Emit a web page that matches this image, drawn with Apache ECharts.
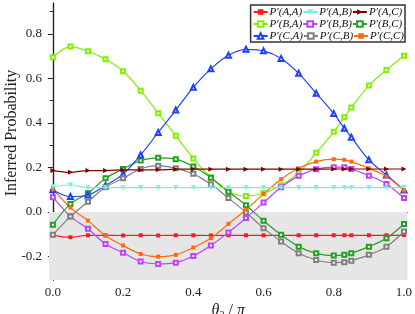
<!DOCTYPE html>
<html><head><meta charset="utf-8">
<script src="https://cdn.jsdelivr.net/npm/echarts@6/dist/echarts.min.js"></script>
<style>html,body{margin:0;padding:0;background:#fff}#c{width:415px;height:314px}</style>
</head><body><div id="c"></div>
<script>
var theta = [0,0.05,0.1,0.15,0.2,0.25,0.3,0.35,0.4,0.45,0.5,0.55,0.6,0.65,0.7,0.75,0.8,0.83,0.85,0.9,0.95,1.0];
var pAA = [-0.104,-0.114,-0.105,-0.105,-0.106,-0.105,-0.106,-0.105,-0.105,-0.106,-0.105,-0.105,-0.105,-0.105,-0.105,-0.105,-0.105,-0.105,-0.105,-0.105,-0.105,-0.104];
var pAB = [0.114,0.121,0.109,0.109,0.109,0.109,0.109,0.109,0.109,0.109,0.109,0.109,0.109,0.109,0.109,0.109,0.109,0.109,0.109,0.109,0.109,0.111];
var pAC = [0.186,0.178,0.186,0.186,0.189,0.189,0.189,0.192,0.192,0.192,0.192,0.192,0.192,0.192,0.192,0.192,0.193,0.193,0.193,0.193,0.193,0.193];
var pBA = [0.695,0.743,0.722,0.686,0.632,0.545,0.444,0.342,0.240,0.155,0.091,0.072,0.084,0.120,0.176,0.266,0.360,0.425,0.469,0.568,0.638,0.702];
var pBB = [0.066,-0.020,-0.076,-0.144,-0.183,-0.223,-0.234,-0.228,-0.198,-0.151,-0.092,-0.027,0.042,0.111,0.162,0.192,0.201,0.201,0.193,0.163,0.126,0.062];
var pBC = [-0.058,0.036,0.084,0.151,0.193,0.231,0.243,0.237,0.204,0.154,0.091,0.030,-0.040,-0.103,-0.156,-0.186,-0.196,-0.193,-0.186,-0.156,-0.118,-0.054];
var pCA = [0.100,0.069,0.076,0.119,0.170,0.256,0.357,0.458,0.560,0.643,0.704,0.731,0.724,0.690,0.623,0.533,0.442,0.376,0.336,0.234,0.166,0.099];
var pCB = [-0.103,-0.021,0.046,0.111,0.151,0.193,0.208,0.196,0.171,0.124,0.062,-0.002,-0.073,-0.133,-0.186,-0.216,-0.228,-0.226,-0.219,-0.193,-0.156,-0.088];
var pCC = [0.105,0.019,-0.039,-0.107,-0.151,-0.189,-0.201,-0.193,-0.160,-0.118,-0.054,0.010,0.081,0.147,0.196,0.226,0.237,0.234,0.226,0.196,0.159,0.096];
var names = ["P′(A,A)","P′(A,B)","P′(A,C)","P′(B,A)","P′(B,B)","P′(B,C)","P′(C,A)","P′(C,B)","P′(C,C)"];
var xMajor = [0,0.2,0.4,0.6,0.8,1.0];
var xMinor = [0.1,0.3,0.5,0.7,0.9];
var yMajor = [-0.2,0,0.2,0.4,0.6,0.8];
var yMinor = [-0.3,-0.1,0.1,0.3,0.5,0.7,0.9];

function pairs(v){ return theta.map(function(t,i){ return [t, v[i]]; }); }
var specs = [
  {d:pAA, c:'#ff1a1a', s:'rect', r:0, z:5},
  {d:pAB, c:'#70f5dc', s:'triangle', r:180, z:6},
  {d:pAC, c:'#800000', s:'triangle', r:-90, z:6},
  {d:pBA, c:'#80f000', s:'emptyRect', r:0, z:5},
  {d:pBB, c:'#c040ff', s:'emptyRect', r:0, z:5},
  {d:pBC, c:'#22a022', s:'emptyRect', r:0, z:5},
  {d:pCA, c:'#2040ff', s:'emptyTriangle', r:0, z:5},
  {d:pCB, c:'#808080', s:'emptyRect', r:0, z:5},
  {d:pCC, c:'#ff6a10', s:'rect', r:0, z:5}
];
var serif = 'Liberation Serif';
var series = specs.map(function(sp, i){
  return {
    name: names[i], type:'line', data: pairs(sp.d), smooth: 0.35,
    symbol: sp.s, symbolSize: sp.s.indexOf('riangle')>=0 ? 5 : 4, symbolRotate: sp.r,
    showAllSymbol: true,
    lineStyle:{color: sp.c, width: 1.2}, itemStyle:{color: sp.c, borderWidth: 1},
    z: sp.z, animation:false
  };
});
series.unshift({
  name:'bg', type:'line', data:[], z:1, silent:true,
  markArea:{silent:true, itemStyle:{color:'#e6e6e6'}, data:[[{yAxis:-0.306},{yAxis:0}]]}
});
var chart = echarts.init(document.getElementById('c'), null, {renderer:'canvas'});
var lbl = {fontFamily: serif, fontSize: 13, color:'#222'};
chart.setOption({
  animation:false,
  grid:{left:49, right:7.5, top:3, bottom:34, outerBoundsMode:'none', containLabel:false},
  legend:{
    data: names, right: 10, top: 5, width: 180, itemGap: 0, itemWidth: 14, itemHeight: 7,
    padding:[1,1,0,2], borderColor:'#333', borderWidth:1.5, backgroundColor:'#fff',
    textStyle:{fontFamily: serif, fontStyle:'italic', fontSize: 11, color:'#111', lineHeight: 12, padding:[0,0,0,-3]}
  },
  xAxis:[
    {type:'value', min:-0.011, max:1.01, position:'bottom',
     axisLine:{lineStyle:{color:'#222', width:1.2}},
     axisTick:{customValues:xMajor, length:4, lineStyle:{color:'#222'}},
     axisLabel:{customValues:xMajor, formatter:function(v){return v.toFixed(1);}, margin:6, ...lbl},
     splitLine:{show:false},
     name:'{t|θ}{s|2}{n| / }{t|π}', nameLocation:'middle', nameGap:22, nameMoveOverlap:false,
     nameTextStyle:{rich:{t:{fontFamily:serif, fontStyle:'italic', fontSize:16, color:'#222'},
       s:{fontFamily:serif, fontSize:10, color:'#222', verticalAlign:'bottom', padding:[8,0,0,0]},
       n:{fontFamily:serif, fontSize:16, color:'#222'}}}},
    {type:'value', min:-0.011, max:1.01, position:'bottom',
     axisLine:{show:false}, axisTick:{customValues:xMinor, length:2, lineStyle:{color:'#222'}},
     axisLabel:{show:false}, splitLine:{show:false}},
    {type:'value', min:-0.011, max:1.01, position:'top',
     axisLine:{lineStyle:{color:'#222', width:1.2}}, axisTick:{show:false},
     axisLabel:{show:false}, splitLine:{show:false}}
  ],
  yAxis:[
    {type:'value', min:-0.306, max:0.939, position:'left',
     axisLine:{show:true, lineStyle:{color:'#222', width:1.2}},
     axisTick:{show:true, customValues:yMajor, length:5, lineStyle:{color:'#222'}},
     axisLabel:{customValues:yMajor, formatter:function(v){return v.toFixed(1);}, margin:7, ...lbl},
     splitLine:{show:false},
     name:'Inferred Probability', nameLocation:'middle', nameGap:29, nameMoveOverlap:false,
     nameTextStyle:{fontFamily:serif, fontSize:16, color:'#222', padding:[0,0,0,17]}},
    {type:'value', min:-0.306, max:0.939, position:'left',
     axisLine:{show:false}, axisTick:{show:true, customValues:yMinor, length:3, lineStyle:{color:'#222'}},
     axisLabel:{show:false}, splitLine:{show:false}},
    {type:'value', min:-0.306, max:0.939, position:'right',
     axisLine:{show:true, lineStyle:{color:'#222', width:1.2}}, axisTick:{show:false},
     axisLabel:{show:false}, splitLine:{show:false}}
  ],
  series: series
});
</script></body></html>
